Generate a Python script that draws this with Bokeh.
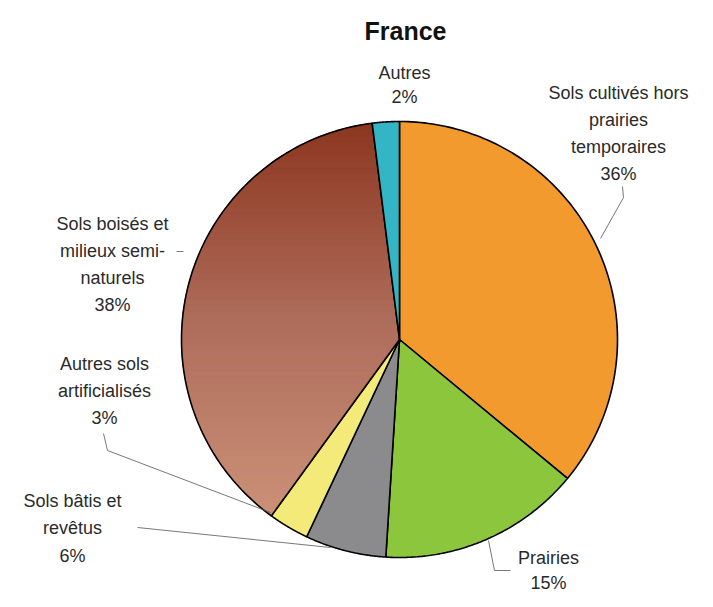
import numpy as np
from bokeh.plotting import figure
from bokeh.models import Range1d
from bokeh.core.properties import value
from bokeh.embed import file_html
from bokeh.resources import INLINE

# ---- data ----
categories = ["Sols cultivés hors prairies temporaires", "Prairies", "Sols bâtis et revêtus",
              "Autres sols artificialisés", "Sols boisés et milieux semi-naturels", "Autres"]
shares = [36, 15, 6, 3, 38, 2]
colors = ["#F39A2E", "#8CC63C", "#8B8B8E", "#F3EA7A", None, "#33B5C6"]
label_lines = [["Sols cultivés hors", "prairies", "temporaires", "36%"],
               ["Prairies", "15%"],
               ["Sols bâtis et", "revêtus", "6%"],
               ["Autres sols", "artificialisés", "3%"],
               ["Sols boisés et", "milieux semi-", "naturels", "38%"],
               ["Autres", "2%"]]
title = "France"

W, H = 697, 591
p = figure(width=W, height=H, output_backend="svg", toolbar_location=None,
           x_range=Range1d(0, W), y_range=Range1d(H, 0), min_border=0)
p.axis.visible = False
p.grid.visible = False
p.outline_line_color = None

cx, cy, R = 399, 339, 218
vals = np.array(shares, dtype=float)
ends = np.cumsum(vals) / vals.sum() * 2 * np.pi - np.pi / 2
starts = np.concatenate([[-np.pi / 2], ends[:-1]])


def wedge_poly(a0, a1, n=120):
    t = np.linspace(a0, a1, n)
    xs = np.concatenate([[cx], cx + R * np.cos(t)])
    ys = np.concatenate([[cy], cy + R * np.sin(t)])
    return xs, ys


def clip(poly, ylo, yhi):
    def clip_half(pts, keep, inter):
        out = []
        n = len(pts)
        for i in range(n):
            a, b = pts[i], pts[(i + 1) % n]
            ia, ib = keep(a), keep(b)
            if ia:
                out.append(a)
                if not ib:
                    out.append(inter(a, b))
            elif ib:
                out.append(inter(a, b))
        return out

    def inter_y(yv):
        def f(a, b):
            t = (yv - a[1]) / (b[1] - a[1])
            return (a[0] + t * (b[0] - a[0]), yv)
        return f
    pts = clip_half(poly, lambda q: q[1] >= ylo, inter_y(ylo))
    if not pts:
        return pts
    pts = clip_half(pts, lambda q: q[1] <= yhi, inter_y(yhi))
    return pts


def lerp(c0, c1, t):
    return "#%02x%02x%02x" % tuple(int(round(a + (b - a) * t)) for a, b in zip(c0, c1))

top_c, mid_c, bot_c = (0x8C, 0x36, 0x1F), (0xAE, 0x6C, 0x5A), (0xCB, 0x90, 0x78)

for i, (a0, a1) in enumerate(zip(starts, ends)):
    xs, ys = wedge_poly(a0, a1)
    if colors[i] is not None:
        p.patch(xs, ys, fill_color=colors[i], line_color="black", line_width=1.6)
    else:
        poly = list(zip(xs, ys))
        y0, y1 = ys.min(), ys.max()
        nb = 60
        edges = np.linspace(y0, y1, nb + 1)
        bx, by, bc = [], [], []
        for k in range(nb):
            part = clip(poly, edges[k] - 0.5, edges[k + 1] + 0.5)
            if len(part) < 3:
                continue
            t = (k + 0.5) / nb
            c = lerp(top_c, mid_c, t * 2) if t < 0.5 else lerp(mid_c, bot_c, (t - 0.5) * 2)
            bx.append([q[0] for q in part])
            by.append([q[1] for q in part])
            bc.append(c)
        p.patches(bx, by, fill_color=bc, line_color=bc, line_width=1)
        p.patch(xs, ys, fill_color=None, line_color="black", line_width=1.6)

# ---- labels ----
font = value("Liberation Sans")
label_pos = [(618, 92, 27), (548, 557, 25), (72, 500, 27.5), (104, 363, 27), (112, 223, 27), (404, 72, 24)]
for lines, (lx, ly, dy) in zip(label_lines, label_pos):
    p.text(x=[lx] * len(lines), y=[ly + j * dy for j in range(len(lines))], text=lines,
           text_font=font, text_font_size="18px", text_color="#2a2a2a",
           text_align="center", text_baseline="middle")

# leader lines
lc = "#555555"
p.line([622, 623, 600], [186, 197, 238], line_color=lc, line_width=0.8)
p.line([488, 494, 510], [540, 570, 570], line_color=lc, line_width=0.8)
p.line([137, 330], [527, 547], line_color=lc, line_width=0.8)
p.line([103, 107, 270], [433, 450, 512], line_color=lc, line_width=0.8)
p.line([176, 183], [251, 251], line_color=lc, line_width=0.8)

p.text(x=[405], y=[30], text=[title], text_font=font, text_font_size="25px",
       text_font_style="bold", text_color="#111111", text_align="center", text_baseline="middle")

open("out.html", "w").write(file_html(p, INLINE))
